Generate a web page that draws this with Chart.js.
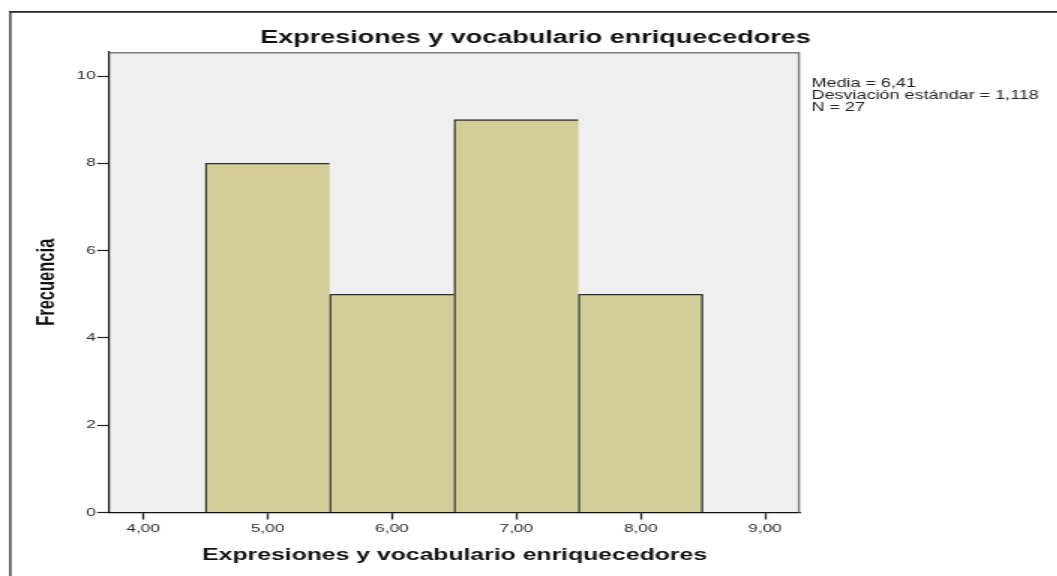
<!DOCTYPE html>
<html lang="es">
<head>
<meta charset="UTF-8">
<title>Expresiones y vocabulario enriquecedores</title>
<script src="https://cdn.jsdelivr.net/npm/chart.js"></script>
<style>
  html, body { margin: 0; padding: 0; background: #fff; overflow: hidden; }
  #wrap { width: 1057px; height: 576px; overflow: hidden; }
  /* the SPSS picture is stretched sideways, so the canvas is too */
  #histo { transform: scaleX(1.5); transform-origin: 0 0; }
</style>
</head>
<body>
<div id="wrap"><canvas id="histo" width="714" height="576"></canvas></div>
<script>
const chartTitle = 'Expresiones y vocabulario enriquecedores';
const xTitle = 'Expresiones y vocabulario enriquecedores';
const yTitle = 'Frecuencia';
const binCenters = [5, 6, 7, 8];
const frequencies = [8, 5, 9, 5];
const xTickLabels = ['4,00', '5,00', '6,00', '7,00', '8,00', '9,00'];
const yTickLabels = ['0', '2', '4', '6', '8', '10'];
const statsLines = ['Media = 6,41', 'Desviación estándar = 1,118', 'N = 27'];

const FONT = "'Liberation Sans', Arial, sans-serif";
const AREA_LEFT = 72.8, AREA_RIGHT = 533.3, AREA_BOTTOM = 512.5;

const labelFor = (list, v) => list.find(l => parseFloat(l.replace(',', '.')) === v) || '';

const decor = {
    id: 'decor',
    beforeDraw(chart) {
        const {ctx, chartArea: a, width, height} = chart;
        ctx.save();
        ctx.fillStyle = '#2b2b2b';
        ctx.fillRect(6.2, 11, width, 1.8);
        ctx.fillRect(6.2, 11, 1.3, height);
        ctx.fillStyle = '#efefef';
        ctx.fillRect(a.left, a.top, a.right - a.left, a.bottom - a.top);
        ctx.restore();
    },
    afterDatasetsDraw(chart) {
        const {ctx, chartArea: a} = chart;
        ctx.save();
        ctx.strokeStyle = '#7a7a7a';
        ctx.lineWidth = 1.4;
        ctx.beginPath();
        ctx.moveTo(a.left, a.top + 0.7);
        ctx.lineTo(a.right - 0.7, a.top + 0.7);
        ctx.lineTo(a.right - 0.7, a.bottom);
        ctx.stroke();
        ctx.restore();
    },
    afterDraw(chart) {
        const ctx = chart.ctx;
        ctx.save();
        ctx.font = '12px ' + FONT;
        ctx.fillStyle = '#222';
        ctx.textBaseline = 'alphabetic';
        statsLines.forEach((t, i) => ctx.fillText(t, 541, 86.7 + i * 12.2));
        ctx.restore();
    }
};

new Chart(document.getElementById('histo'), {
    type: 'bar',
    data: {
        datasets: [{
            data: binCenters.map((c, i) => ({x: c, y: frequencies[i]})),
            backgroundColor: '#d3ce98',
            borderColor: '#2e2e2e',
            borderWidth: ctx => ({
                top: 1.3, left: 1.4, bottom: 0,
                right: ctx.dataIndex === frequencies.length - 1 ? 1.4 : 0
            }),
            borderSkipped: false,
            barPercentage: 1,
            categoryPercentage: 1
        }]
    },
    options: {
        responsive: false,
        animation: false,
        layout: { padding: 0 },
        plugins: {
            legend: { display: false },
            tooltip: { enabled: false },
            title: {
                display: true,
                text: chartTitle,
                color: '#111',
                font: { family: FONT, size: 18, weight: 'bold' },
                padding: { top: 27, bottom: 3.4 }
            }
        },
        scales: {
            x: {
                type: 'linear',
                min: 3.727,
                max: 9.281,
                offset: false,
                grid: { display: true, offset: false, drawOnChartArea: false, tickLength: 7, tickColor: '#222', tickWidth: 1.3 },
                border: { color: '#111', width: 1.2 },
                ticks: {
                    stepSize: 1,
                    includeBounds: false,
                    maxRotation: 0,
                    autoSkip: false,
                    padding: 2,
                    color: '#2a2a2a',
                    font: { family: FONT, size: 11.5 },
                    callback: v => labelFor(xTickLabels, v)
                },
                title: {
                    display: true,
                    text: xTitle,
                    color: '#111',
                    font: { family: FONT, size: 16.5, weight: 'bold' },
                    padding: { top: 0, bottom: 11 }
                },
                afterFit(s) { s.height = 576 - AREA_BOTTOM; }
            },
            y: {
                type: 'linear',
                min: 0,
                max: 10.55,
                grid: { display: true, drawOnChartArea: false, tickLength: 8, tickColor: '#222', tickWidth: 1.2 },
                border: { color: '#111', width: 1.2 },
                ticks: {
                    stepSize: 2,
                    includeBounds: false,
                    padding: 1,
                    color: '#2a2a2a',
                    font: { family: FONT, size: 11.5 },
                    callback: v => labelFor(yTickLabels, v)
                },
                title: {
                    display: true,
                    text: yTitle,
                    color: '#111',
                    font: { family: FONT, size: 16.5, weight: 'bold' },
                    padding: { top: 21.4, bottom: 0 }
                },
                afterFit(s) { s.width = AREA_LEFT; }
            },
            side: {
                type: 'linear',
                position: 'right',
                grid: { display: false, drawTicks: false },
                border: { display: false },
                ticks: { display: false },
                afterFit(s) { s.width = 714 - AREA_RIGHT; }
            }
        }
    },
    plugins: [decor]
});
</script>
</body>
</html>
